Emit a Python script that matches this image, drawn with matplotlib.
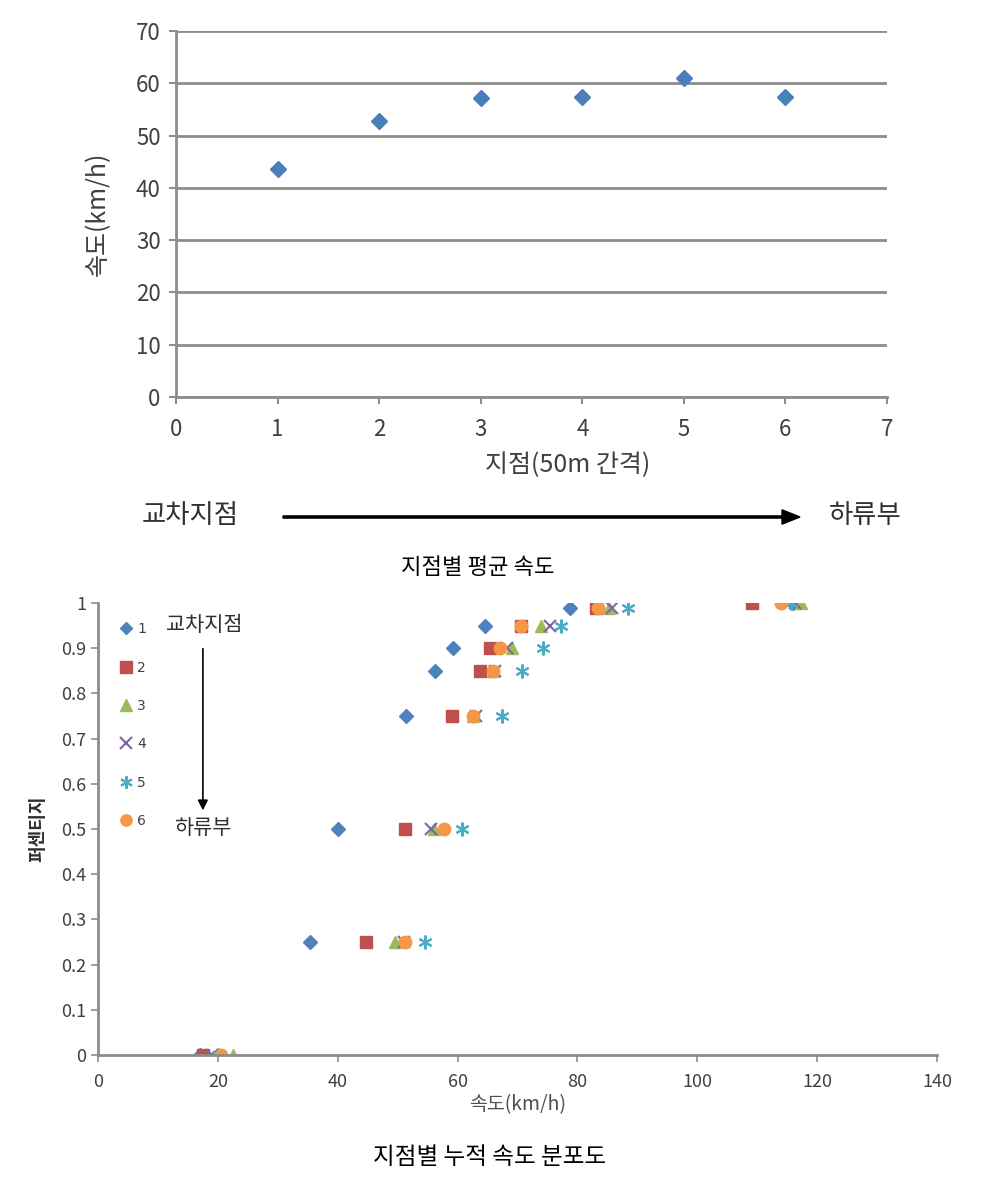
import numpy as np
import matplotlib
matplotlib.use("Agg")
import matplotlib.pyplot as plt
from matplotlib.ticker import FuncFormatter

# 글꼴 설정
plt.rcParams['font.family'] = ['Noto Sans CJK KR', 'DejaVu Sans']
plt.rcParams['axes.unicode_minus'] = False

# 위 그림: 지점별 평균 속도
points = [1, 2, 3, 4, 5, 6]
mean_speed = [43.7, 52.8, 57.1, 57.4, 61.0, 57.4]

# 아래 그림: 지점별 누적 속도 분포 (퍼센티지 단계별 속도)
pct = [0, 0.25, 0.5, 0.75, 0.85, 0.9, 0.95, 0.99, 1.0]
spd1 = [17.0, 35.3, 40.0, 51.4, 56.2, 59.2, 64.6, 78.7, 115.9]
spd2 = [17.5, 44.7, 51.2, 59.1, 63.7, 65.4, 70.6, 83.1, 109.2]
spd3 = [22.5, 49.5, 56.0, 62.6, 65.9, 69.0, 73.9, 85.3, 117.3]
spd4 = [19.0, 51.0, 55.6, 63.0, 66.2, 68.3, 75.5, 85.8, 116.3]
spd5 = [20.0, 54.5, 60.8, 67.4, 70.8, 74.2, 77.3, 88.5, 115.6]
spd6 = [20.5, 51.2, 57.8, 62.6, 65.9, 67.0, 70.6, 83.4, 114.0]
series_names = ['1', '2', '3', '4', '5', '6']

W, H = 1008, 1193
fig = plt.figure(figsize=(W / 100, H / 100), dpi=100)

gray = '#8c8c8c'
tickc = '#404040'

# ---- 위 그림 ----
ax1 = fig.add_axes([176 / W, 1 - 397 / H, (887 - 176) / W, (397 - 31) / H])
ax1.plot(points, mean_speed, linestyle='none', marker='D', ms=8.5,
         color='#4a7ebb', markeredgecolor='#4a7ebb', zorder=3)
ax1.set_xlim(0, 7)
ax1.set_ylim(0, 70)
ax1.set_xticks(range(0, 8))
ax1.set_yticks(range(0, 71, 10))
ax1.yaxis.grid(True, color=gray, linewidth=2)
ax1.set_axisbelow(True)
for s in ['top', 'right']:
    ax1.spines[s].set_visible(False)
for s in ['left', 'bottom']:
    ax1.spines[s].set_color(gray)
    ax1.spines[s].set_linewidth(2)
ax1.tick_params(axis='both', colors=gray, width=1.5, length=5,
                labelsize=16, labelcolor=tickc, pad=6)
ax1.tick_params(axis='x', pad=10)
ax1.set_xlabel('지점(50m 간격)', fontsize=18, color='#404040')
ax1.xaxis.set_label_coords((568 - 176) / (887 - 176), -(452 - 397) / (397 - 31))
ax1.set_ylabel('속도(km/h)', fontsize=18, color='#404040')
ax1.yaxis.set_label_coords(-(176 - 111) / (887 - 176), (397 - 214) / (397 - 31))

# 방향 표시 (교차지점 → 하류부)
fig.text(190 / W, 1 - 515 / H, '교차지점', fontsize=19, ha='center', va='center', color='#303030')
fig.text(865 / W, 1 - 515 / H, '하류부', fontsize=19, ha='center', va='center', color='#303030')
fig.patches.append(matplotlib.patches.FancyArrow(
    283 / W, 1 - 517 / H, (782 - 283) / W, 0, width=0.0018, head_width=0.012,
    head_length=18 / W, length_includes_head=False, color='black',
    transform=fig.transFigure, figure=fig))
fig.text(478 / W, 1 - 567 / H, '지점별 평균 속도', fontsize=16, ha='center', va='center', color='black')

# ---- 아래 그림 ----
ax2 = fig.add_axes([98 / W, 1 - 1055 / H, (937 - 98) / W, (1055 - 603) / H])
styles = [
    dict(marker='D', ms=7, color='#4f81bd'),
    dict(marker='s', ms=9, color='#c0504d'),
    dict(marker='^', ms=9, color='#9bbb59'),
    dict(marker='x', ms=9, color='#8064a2', mew=1.5),
    dict(marker=(6, 2, 0), ms=10, color='#4bacc6', mew=1.5),
    dict(marker='o', ms=9, color='#f79646'),
]
all_speeds = [spd1, spd2, spd3, spd4, spd5, spd6]
for name, sp, st in zip(series_names, all_speeds, styles):
    ax2.plot(sp, pct, linestyle='none', label=name, **st)

ax2.set_xlim(0, 140)
ax2.set_ylim(0, 1)
ax2.set_xticks(range(0, 141, 20))
ax2.set_yticks(np.arange(0, 1.01, 0.1))
ax2.yaxis.set_major_formatter(FuncFormatter(lambda v, p: '%g' % round(v, 1)))
for s in ['top', 'right']:
    ax2.spines[s].set_visible(False)
for s in ['left', 'bottom']:
    ax2.spines[s].set_color(gray)
    ax2.spines[s].set_linewidth(2)
ax2.tick_params(axis='both', colors=gray, width=1.2, length=5,
                labelsize=13, labelcolor=tickc)
ax2.tick_params(axis='x', pad=8)
ax2.set_xlabel('속도(km/h)', fontsize=14, color='#505050', labelpad=2)
ax2.set_ylabel('퍼센티지', fontsize=13, color='#303030', fontweight='bold', labelpad=10)

leg = ax2.legend(loc='upper left', bbox_to_anchor=(0.01, 0.985), frameon=False,
                 labelspacing=1.75, handlelength=1.0, handletextpad=0.3,
                 markerscale=0.9, prop={'family': 'DejaVu Sans', 'size': 10})
for t in leg.get_texts():
    t.set_color('#404040')

ax2.text(17.8, 0.951, '교차지점', fontsize=15, ha='center', va='center', color='#303030')
ax2.annotate('', xy=(17.5, 0.535), xytext=(17.5, 0.905),
             arrowprops=dict(arrowstyle='-|>', color='black', lw=1.2, mutation_scale=15))
ax2.text(17.5, 0.502, '하류부', fontsize=15, ha='center', va='center', color='#303030')

fig.text(490 / W, 1 - 1157 / H, '지점별 누적 속도 분포도', fontsize=17, ha='center', va='center', color='black')

fig.savefig('out.png', dpi=100)
